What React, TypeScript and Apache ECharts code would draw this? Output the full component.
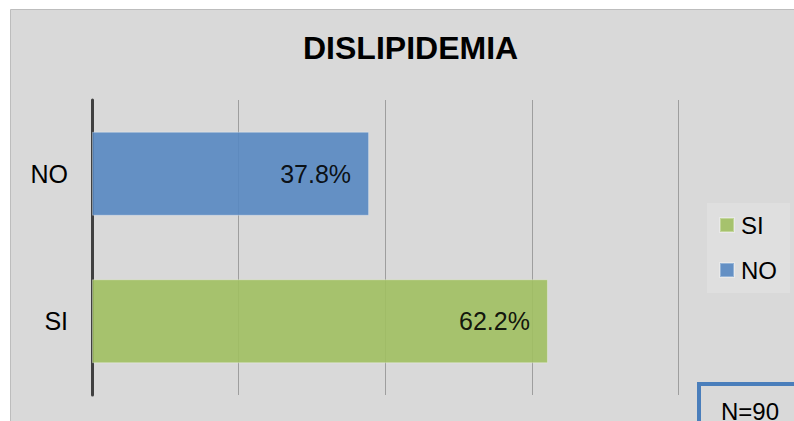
import React, { useEffect, useRef } from "react";
import * as echarts from "echarts";

const categories = ["SI", "NO"];
const siValues = [62.2, null];
const noValues = [null, 37.8];
const legendNames = ["SI", "NO"];
const titleText = "DISLIPIDEMIA";
const noteText = "N=90";

const FONT = "'Liberation Sans', Arial, sans-serif";

export default function App() {
  const ref = useRef<HTMLDivElement>(null);
  useEffect(() => {
    if (!ref.current) return;
    const chart = echarts.init(ref.current, null, { renderer: "svg" });
    const label = {
      show: true,
      position: "insideRight",
      distance: 18,
      color: "#000",
      fontSize: 25,
      fontFamily: FONT,
      formatter: (p: any) => p.value.toFixed(1) + "%",
    };
    chart.setOption({
      animation: false,
      backgroundColor: "#ffffff",
      title: {
        text: titleText,
        left: 303,
        top: 32,
        padding: 0,
        textStyle: { fontSize: 32, fontWeight: "bold", color: "#000", fontFamily: FONT },
      },
      legend: {
        data: legendNames,
        orient: "vertical",
        left: 707,
        top: 203,
        padding: [10, 13, 11, 12],
        backgroundColor: "#dfdfdf",
        itemWidth: 14,
        itemHeight: 14,
        itemGap: 21,
        icon: "rect",
        textStyle: { fontSize: 24, color: "#000", fontFamily: FONT, padding: [0, 0, 0, 2] },
      },
      grid: {
        left: 92,
        top: 100,
        width: 733,
        height: 295,
        containLabel: false,
        outerBoundsMode: "none",
      },
      xAxis: {
        type: "value",
        min: 0,
        max: 100,
        interval: 20,
        axisLabel: { show: false },
        axisLine: { show: false },
        axisTick: { show: false },
        splitLine: { show: true, lineStyle: { color: "#9e9e9e", width: 1 } },
      },
      yAxis: {
        type: "category",
        data: categories,
        axisLine: { show: true, lineStyle: { color: "#404040", width: 3 } },
        axisTick: { show: false },
        axisLabel: { color: "#000", fontSize: 25, fontFamily: FONT, margin: 24 },
      },
      graphic: [
        {
          type: "rect",
          z: -10,
          shape: { x: 10.5, y: 9.5, width: 800, height: 420 },
          style: { fill: "#d9d9d9", stroke: "#bdbdbd", lineWidth: 1 },
        },
        {
          type: "rect",
          z: 10,
          shape: { x: 699, y: 384, width: 130, height: 60 },
          style: { fill: "#d9d9d9", stroke: "#4a7ebb", lineWidth: 4 },
        },
        {
          type: "text",
          z: 11,
          x: 721,
          y: 399,
          style: { text: noteText, fontSize: 24, fontFamily: FONT, fill: "#000", verticalAlign: "top" },
        },
      ],
      series: [
        {
          name: "SI",
          type: "bar",
          data: siValues,
          barWidth: 84,
          barGap: "-100%",
          itemStyle: { color: "#a0bf61", opacity: 0.9, borderColor: "rgba(255,255,255,0.35)", borderWidth: 1 },
          label,
        },
        {
          name: "NO",
          type: "bar",
          data: noValues,
          barWidth: 84,
          barGap: "-100%",
          itemStyle: { color: "#5687c1", opacity: 0.9, borderColor: "rgba(255,255,255,0.35)", borderWidth: 1 },
          label,
        },
      ],
    });
    return () => chart.dispose();
  }, []);
  return (
    <div
      ref={ref}
      style={{ position: "fixed", left: 0, top: 0, width: 794, height: 421 }}
    />
  );
}
